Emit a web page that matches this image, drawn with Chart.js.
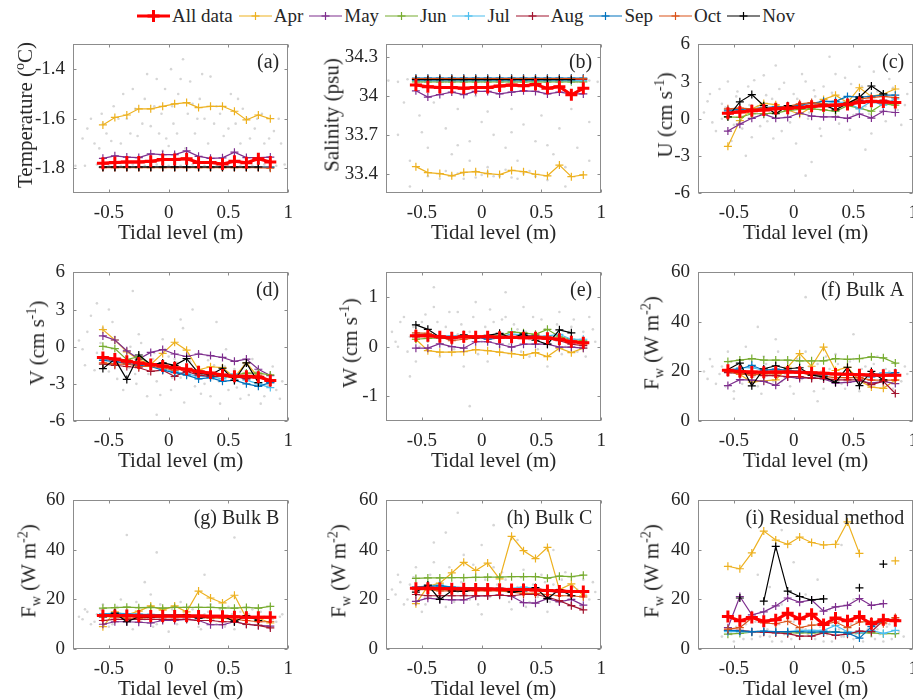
<!DOCTYPE html>
<html>
<head>
<meta charset="utf-8">
<script src="https://cdn.jsdelivr.net/npm/chart.js@4"></script>
<style>
  body { margin:0; background:#fff; width:913px; height:700px; overflow:hidden; position:relative;
         font-family:"Liberation Serif","Times New Roman",serif; color:#262626; }
  canvas { position:absolute; }
  .ylab { position:absolute; white-space:nowrap; font-size:21px; transform:translate(-50%,-50%) rotate(-90deg); }
  .ylab sup, .ylab sub { font-size:14px; }
  #legend { position:absolute; top:6px; left:137px; display:flex; align-items:center; font-size:19px; line-height:20px; }
  #legend .item { display:flex; align-items:center; margin-right:6px; }
  #legend svg { margin-right:2px; }
</style>
</head>
<body>
<div id="legend"></div>
<script>
// tidal level bins (m)
const tide = [-0.55,-0.45,-0.35,-0.25,-0.15,-0.05,0.05,0.15,0.25,0.35,0.45,0.55,0.65,0.75,0.85];
const seriesNames = ['All data','Apr','May','Jun','Jul','Aug','Sep','Oct','Nov'];
const seriesColors = ['#ff0000','#EDB120','#7E2F8E','#77AC30','#4DBEEE','#A2142F','#0072BD','#D95319','#000000'];

const xTicks = [-0.5, 0, 0.5, 1];
const tempTicks = [-1.8, -1.6, -1.4];
const salTicks = [33.4, 33.7, 34, 34.3];
const velTicks = [-6, -3, 0, 3, 6];
const wTicks = [-1, 0, 1];
const fluxTicks = [0, 20, 40, 60];

// rows follow seriesNames order
const temperature = [
  [-1.78,-1.777,-1.775,-1.775,-1.772,-1.765,-1.765,-1.762,-1.777,-1.777,-1.783,-1.772,-1.778,-1.762,-1.775],
  [-1.625,-1.595,-1.585,-1.56,-1.56,-1.55,-1.54,-1.535,-1.555,-1.55,-1.55,-1.57,-1.605,-1.585,-1.60],
  [-1.76,-1.75,-1.755,-1.757,-1.742,-1.745,-1.745,-1.73,-1.752,-1.76,-1.758,-1.735,-1.757,-1.757,-1.755],
  [-1.793,-1.793,-1.793,-1.793,-1.793,-1.793,-1.793,-1.793,-1.793,-1.793,-1.793,-1.793,-1.793,-1.793,-1.793],
  [-1.794,-1.794,-1.794,-1.794,-1.794,-1.794,-1.794,-1.794,-1.794,-1.794,-1.794,-1.794,-1.794,-1.794,-1.794],
  [-1.796,-1.796,-1.796,-1.796,-1.796,-1.796,-1.796,-1.796,-1.796,-1.796,-1.796,-1.796,-1.796,-1.796,-1.796],
  [-1.797,-1.797,-1.797,-1.797,-1.797,-1.797,-1.797,-1.797,-1.797,-1.797,-1.797,-1.797,-1.797,-1.797,-1.797],
  [-1.798,-1.798,-1.798,-1.798,-1.798,-1.798,-1.798,-1.798,-1.798,-1.798,-1.798,-1.798,-1.798,-1.798,-1.80],
  [-1.795,-1.795,-1.795,-1.795,-1.795,-1.795,-1.795,-1.795,-1.795,-1.795,-1.795,-1.795,-1.795,-1.795,null]
];
const salinity = [
  [34.085,34.073,34.066,34.066,34.06,34.066,34.066,34.078,34.085,34.08,34.09,34.06,34.073,34.01,34.06],
  [33.454,33.408,33.40,33.383,33.41,33.415,33.40,33.393,33.425,33.415,33.395,33.383,33.466,33.376,33.39],
  [34.041,33.992,34.012,34.031,34.012,34.036,34.036,34.017,34.031,34.041,34.036,34.017,34.031,34.017,34.017],
  [34.11,34.11,34.11,34.11,34.11,34.11,34.11,34.11,34.11,34.11,34.11,34.11,34.11,34.11,34.11],
  [34.12,34.12,34.12,34.12,34.12,34.12,34.12,34.12,34.12,34.12,34.12,34.12,34.12,34.12,34.12],
  [34.13,34.13,34.13,34.13,34.13,34.13,34.13,34.13,34.13,34.13,34.13,34.13,34.13,34.13,34.13],
  [34.14,34.14,34.14,34.14,34.14,34.14,34.14,34.14,34.14,34.14,34.14,34.14,34.14,34.14,34.14],
  [34.135,34.135,34.135,34.135,34.135,34.135,34.135,34.135,34.135,34.135,34.135,34.135,34.135,34.135,34.135],
  [34.127,34.127,34.127,34.127,34.127,34.127,34.127,34.127,34.127,34.127,34.127,34.127,34.127,34.127,null]
];
const uVel = [
  [0.45,0.55,0.65,0.7,0.8,0.85,0.9,1.0,1.05,1.1,1.15,1.3,1.4,1.35,1.3],
  [-2.23,-0.15,0.8,1.23,1.13,0.72,0.36,0.92,1.56,1.9,1.3,2.5,1.8,2.0,2.4],
  [-1.0,-0.44,0.03,0.36,0.03,0.1,0.46,0.2,0.15,0.15,0.03,0.38,0.05,0.6,0.5],
  [0.15,0.1,0.4,0.4,0.45,0.65,0.75,0.8,0.72,0.6,1.05,0.85,0.6,1.2,1.1],
  [0.6,0.65,0.75,0.8,0.8,0.9,1.0,1.05,1.2,1.35,1.3,0.8,1.4,1.1,1.6],
  [0.5,0.6,0.6,0.7,0.8,0.8,0.9,1.0,1.1,1.0,1.2,1.5,1.3,1.5,1.3],
  [0.7,0.75,0.8,0.9,0.95,1.0,1.1,1.25,1.4,1.4,1.8,1.75,1.8,1.9,1.9],
  [0.8,0.85,0.8,0.85,0.9,1.0,1.2,1.3,1.2,1.1,1.3,1.6,1.7,1.8,1.7],
  [0.15,1.36,1.95,1.05,0.4,1.05,0.9,0.95,1.13,0.72,1.23,1.74,2.64,2.0,null]
];
const vVel = [
  [-0.87,-1.0,-1.18,-1.31,-1.44,-1.56,-1.7,-1.82,-2.03,-2.13,-2.28,-2.38,-2.38,-2.46,-2.72],
  [1.38,0.54,-0.41,-1.05,-1.44,-0.54,0.36,-0.28,-1.87,-1.62,-1.69,-2.46,-1.3,-2.46,-2.72],
  [0.87,0.54,-0.33,-1.0,-0.46,-0.23,-0.59,-0.79,-0.59,-0.72,-0.87,-1.18,-1.0,-1.82,-2.33],
  [0.03,-0.15,-1.05,-0.8,-1.44,-1.5,-1.7,-1.82,-1.95,-2.2,-2.38,-2.28,-2.13,-2.13,-2.28],
  [-1.0,-1.1,-1.2,-1.4,-1.6,-1.8,-2.0,-2.2,-2.4,-2.4,-2.6,-2.2,-2.7,-3.0,-3.3],
  [-1.4,-1.5,-1.6,-1.7,-2.0,-1.9,-2.4,-2.0,-2.3,-2.4,-2.4,-2.4,-2.6,-2.4,-2.9],
  [-1.1,-1.2,-1.35,-1.5,-1.6,-1.9,-2.1,-2.3,-2.6,-2.5,-2.8,-2.7,-3.0,-3.2,-2.9],
  [-1.3,-1.4,-1.4,-1.6,-1.6,-1.7,-1.9,-1.8,-2.1,-2.2,-2.4,-2.5,-2.4,-2.3,-2.7],
  [-1.77,-1.0,-2.64,-0.67,-1.44,-1.31,-1.5,-0.97,-2.13,-2.28,-1.74,-2.72,-1.31,-2.9,null]
];
const wVel = [
  [0.22,0.22,0.2,0.18,0.2,0.2,0.2,0.19,0.19,0.18,0.18,0.17,0.15,0.1,0.08],
  [0.15,-0.08,-0.11,-0.11,-0.1,-0.06,-0.08,-0.11,-0.14,-0.17,-0.12,-0.2,-0.03,-0.12,-0.03],
  [-0.03,-0.03,0.06,0,-0.03,0.1,0.1,0.05,-0.01,0.05,0.05,0.05,-0.01,-0.01,-0.03],
  [0.15,0.17,0.18,0.2,0.2,0.2,0.22,0.22,0.3,0.28,0.25,0.35,0.2,0.15,0.12],
  [0.25,0.25,0.22,0.22,0.22,0.2,0.18,0.2,0.25,0.25,0.2,0.22,0.25,0.15,0.15],
  [0.2,0.25,0.18,0.2,0.22,0.2,0.2,0.2,0.18,0.22,0.22,0.2,0.12,0.05,0.02],
  [0.22,0.25,0.2,0.18,0.2,0.2,0.15,0.18,0.2,0.2,0.18,0.15,0.15,0.1,0.1],
  [0.28,0.27,0.2,0.12,0.15,0.18,0.2,0.18,0.2,0.18,0.2,0.2,0.15,0.12,0.05],
  [0.44,0.35,0.19,0.16,0.24,0.18,0.23,0.27,0.18,0.26,0.13,0.05,0.34,0.28,null]
];
const bulkA = [
  [20.5,20,19.8,19.7,19.8,19.8,19.7,19.5,19.3,19,18.9,18.7,18.6,18.5,18.5],
  [20.4,18.8,15.7,16.2,16.6,21.7,27.2,22.1,29.8,20.4,21.7,16.2,13.7,13.2,16.6],
  [14.3,16.7,16.5,16,14.4,17.8,17.2,17.5,17,15.3,15.6,16.2,15.3,16,15.1],
  [24,24.6,25.2,24.6,24.6,24.6,24.3,24.3,24.3,25.2,24.9,25.2,25.9,25.5,23.4],
  [20.5,21.5,21.5,20.5,20.5,20,20,19.5,19.5,19,19,18.5,18.5,19.5,19.5],
  [19.5,19.2,19.2,18.3,18.3,17.9,17.9,17.2,17.2,16.6,16.6,16.6,14.7,16,11.1],
  [20.5,21,22.5,20.5,21,20.5,20,19,18.5,19,19,18.5,17.8,18.5,19.5],
  [20,19,18.5,19,19,19.5,19.5,18.5,18,17.5,17.5,17.5,16.5,16.5,16.5],
  [20.8,23.4,14.2,21.1,22.3,21.1,21.5,18.5,17.8,15.6,21.7,14.3,20,16.6,null]
];
const bulkB = [
  [13.5,13.5,13.5,13.3,13.3,13.3,13.3,13.3,13.3,13.2,13.2,13,12.8,12.8,12.8],
  [9,15,13.8,15.3,17.4,15.7,17.4,15,23.4,20.6,18.6,21.7,12.5,12.5,10.5],
  [10,11,11,10.8,10.5,11.5,11.5,12,11.5,9.8,9.8,11,10,9.5,9.2],
  [16.5,16.7,16.9,16.7,16.8,16.5,16.8,16.8,16.8,16.8,16.6,16.5,16.8,16.5,17.2],
  [14.2,14.5,14.3,14,14,13.8,13.8,13.5,13.5,13.5,13.2,13.2,13,13,13],
  [11.5,12,12,12,12,12,12,12,11.5,11.5,11,11,10,9.5,8.5],
  [14,14.2,14,14,13.8,13.8,13.8,13.6,13.5,13.5,13.3,13.2,13,12.8,12.8],
  [13.2,13,12.5,12.5,12.8,13,13,13,12.8,12.5,12.5,12,11.5,11,11],
  [13,14.5,11,13,12.8,13.2,13.5,13.8,12.5,13,13.5,11,13.5,11.5,null]
];
const bulkC = [
  [24.5,24.5,24.4,24.3,24.3,24.2,24.2,24.1,24,24,23.8,23.6,23.4,23.2,23.2],
  [18.3,25.3,26.6,30.7,35,31.7,34.7,28.3,45.5,39.7,36.5,41,24,26.3,21.5],
  [19.2,20.5,20,19.8,19.8,21.3,21.5,21.8,21.3,18.7,18.5,20.3,19,20,17.7],
  [28.5,28.7,28.7,28.8,28.8,28.9,29,29,29.2,29.2,29.2,28.6,29.4,29.2,29.8],
  [25,25.5,25.8,25,24.8,24.5,24.5,24.3,24.5,25,24.5,23.5,23,23,23.5],
  [22,21.5,21.5,21.5,21.5,21.5,21.5,21.7,21.5,22,22,21,19.5,17.5,15.8],
  [25,25.3,25.5,25,24.8,24.8,24.5,24.5,24.3,24,24,23.5,23,23,23],
  [24,24,23.5,23.5,23.5,23.5,23.5,23.5,23,22.5,22.5,22,21.5,21.5,21],
  [23,25.8,20,23.5,23.3,24,24,24.5,23,23.5,24.8,20.3,24,21.5,null]
];
const residual = [
  [13.1,11.4,12.7,11.2,11.8,14.4,12.2,14,9.9,12.5,11.4,13.1,10.2,11.8,11.4],
  [33.4,32.4,38.8,47.6,44,42.3,45.2,43,42,42.3,51.3,38.6,null,null,35.6],
  [8.6,21.2,13.8,15,17.4,20.6,18.9,19.8,15.3,17,17.6,20.4,17.6,18.3,null],
  [6,6.3,6.8,7,7,6.5,6.5,6.5,6.5,7,6.5,6.5,6.5,6.2,6.2],
  [7,7,6.8,7,7,7,7.5,7.5,7.5,9.5,7,6.5,7.5,6.3,7.5],
  [7.5,7.5,7,6.8,6.5,6.2,5.2,5.2,6.5,5.5,6,7.2,7,11.5,12],
  [7.5,7.3,7,7.2,7,7,7,6.8,7,6.8,6.5,4.4,9,11.5,11.5],
  [8,8.6,12.5,10.5,10.2,11.2,8.6,9.6,9.9,10.9,8.6,10.9,11.2,10.2,12.7],
  [null,20.6,null,19.3,41.4,23.4,21.2,19.8,20.2,null,null,24.7,null,34.3,null]
];

// raw samples (grey dots), hand-read sketch of the cloud
const cloudA = [[-0.78,-1.79],[-0.7,-1.79],[-0.6,-1.785],[-0.5,-1.79],[-0.4,-1.79],[-0.3,-1.785],[-0.2,-1.79],[-0.1,-1.785],[0,-1.79],[0.1,-1.79],[0.2,-1.785],[0.3,-1.79],[0.4,-1.79],[0.5,-1.785],[0.6,-1.79],[0.7,-1.79],[0.8,-1.785],[0.9,-1.79],[0.97,-1.785],
  [-0.72,-1.68],[-0.65,-1.6],[-0.58,-1.72],[-0.52,-1.66],[-0.46,-1.55],[-0.4,-1.7],[-0.35,-1.6],[-0.3,-1.48],[-0.26,-1.67],[-0.2,-1.52],[-0.15,-1.63],[-0.1,-1.44],[-0.06,-1.58],[-0.02,-1.68],[0.02,-1.4],[0.04,-1.62],[0.08,-1.5],[0.12,-1.36],[0.14,-1.72],[0.18,-1.45],[0.22,-1.66],[0.26,-1.52],[0.3,-1.6],[0.35,-1.43],[0.4,-1.55],[0.46,-1.67],[0.52,-1.5],[0.56,-1.62],[0.62,-1.56],[0.68,-1.68],[0.74,-1.6],[0.8,-1.7],[0.88,-1.65],[0.94,-1.7],[-0.05,-1.73],[0.05,-1.74],[0,-1.71],[-0.55,-1.62],[0.6,-1.7],
  [-0.68,-1.64],[-0.62,-1.7],[-0.56,-1.58],[-0.48,-1.69],[-0.42,-1.6],[-0.38,-1.5],[-0.32,-1.66],[-0.28,-1.56],[-0.22,-1.62],[-0.18,-1.42],[-0.12,-1.55],[-0.08,-1.66],[-0.03,-1.48],[0.03,-1.55],[0.07,-1.66],[0.1,-1.44],[0.16,-1.58],[0.2,-1.54],[0.24,-1.6],[0.28,-1.42],[0.33,-1.7],[0.38,-1.62],[0.43,-1.58],[0.5,-1.64],[0.58,-1.52],[0.66,-1.6],[0.72,-1.64],[0.78,-1.58],[0.84,-1.68],[0.92,-1.6]];
const cloudB = [[-0.78,34.12],[-0.7,34.11],[-0.62,34.13],[-0.5,34.11],[-0.4,34.12],[-0.3,34.11],[-0.2,34.13],[-0.1,34.12],[0,34.11],[0.1,34.12],[0.2,34.13],[0.3,34.11],[0.4,34.12],[0.5,34.11],[0.6,34.13],[0.7,34.12],[0.8,34.11],[0.9,34.12],[0.97,34.11],
  [-0.7,33.7],[-0.6,33.5],[-0.52,33.85],[-0.45,33.6],[-0.4,33.95],[-0.35,33.4],[-0.3,33.75],[-0.25,33.55],[-0.2,33.9],[-0.15,33.36],[-0.1,33.65],[-0.05,34.0],[0,33.8],[0.05,33.45],[0.1,33.7],[0.15,33.38],[0.2,33.6],[0.25,33.9],[0.3,33.5],[0.35,33.78],[0.4,33.42],[0.45,33.65],[0.5,33.85],[0.55,33.35],[0.6,33.55],[0.65,33.75],[0.7,33.45],[0.8,33.6],[0.9,33.8],[-0.2,33.4],[0.1,33.38],[0.3,33.36],[-0.05,33.42],
  [-0.45,33.38],[-0.35,33.36],[-0.25,33.39],[-0.15,33.4],[-0.05,33.37],[0.05,33.41],[0.15,33.39],[0.25,33.37],[0.35,33.4],[0.45,33.38],[-0.3,33.42],[0.0,33.39],[0.2,33.43],[-0.6,33.3],[0.7,33.3],[-0.5,33.72],[-0.2,33.62],[0.05,33.88],[0.25,33.72],[0.55,33.62],[0.75,33.9],[-0.65,33.95],[0.9,33.5],[-0.1,33.5]];
const cloudC = [[-0.75,0.5],[-0.7,2.0],[-0.65,-1.0],[-0.6,1.2],[-0.55,3.0],[-0.5,-0.5],[-0.48,1.8],[-0.42,0.2],[-0.38,2.6],[-0.35,-1.5],[-0.3,1.0],[-0.25,3.5],[-0.22,-0.2],[-0.18,1.6],[-0.12,2.4],[-0.1,-1.0],[-0.05,0.6],[0,2.0],[0.02,-2.0],[0.05,1.2],[0.1,3.0],[0.12,0.0],[0.18,1.8],[0.22,-0.8],[0.25,2.6],[0.3,0.9],[0.35,3.6],[0.38,-0.4],[0.42,1.4],[0.48,2.8],[0.5,0.3],[0.55,4.2],[0.6,1.0],[0.65,-1.2],[0.7,2.2],[0.75,0.6],[0.8,3.2],[0.85,1.5],[0.9,-0.5],[0.95,2.0],[-0.4,-3.0],[0.15,-3.5],[0.1,-4.6],[0.3,5.0],[-0.6,0.0],[0.0,0.8],[-0.2,0.5],[0.45,1.0],
  [-0.72,1.4],[-0.68,-0.3],[-0.62,2.4],[-0.57,0.9],[-0.52,-1.8],[-0.47,2.2],[-0.43,-0.8],[-0.37,1.1],[-0.33,3.1],[-0.28,-0.6],[-0.23,1.9],[-0.17,-1.6],[-0.13,0.9],[-0.08,2.9],[-0.03,-0.3],[0.03,1.6],[0.07,3.6],[0.13,0.5],[0.17,2.3],[0.23,-1.4],[0.27,1.2],[0.32,2.1],[0.37,0.2],[0.43,3.3],[0.47,-0.9],[0.53,1.7],[0.57,2.6],[0.63,0.4],[0.67,3.8],[0.73,1.3],[0.77,-0.2],[0.83,2.5],[0.87,0.7],[0.93,1.1],[-0.15,4.3],[0.6,-2.5]];
const cloudD = [[-0.75,0.5],[-0.7,-1.5],[-0.65,2.5],[-0.6,-0.5],[-0.55,1.5],[-0.5,-2.0],[-0.45,0.8],[-0.4,-1.0],[-0.38,-3.5],[-0.32,0.0],[-0.28,-2.2],[-0.25,1.0],[-0.2,-1.5],[-0.18,-4.0],[-0.12,-0.5],[-0.1,-2.8],[-0.05,0.6],[0,-1.8],[0.02,-3.5],[0.05,-1.0],[0.1,-2.5],[0.12,1.5],[0.18,-1.2],[0.22,-3.2],[0.25,-0.5],[0.3,-2.0],[0.35,-4.0],[0.38,-1.5],[0.42,-2.8],[0.48,-0.2],[0.5,-3.5],[0.55,-1.8],[0.6,-4.2],[0.65,-2.5],[0.7,-1.0],[0.75,-3.0],[0.8,-4.0],[0.85,-2.2],[0.9,-3.5],[0.95,-2.8],[-0.6,3.5],[-0.3,4.5],[0.2,3.0],[-0.1,-5.5],[0.4,2.0],[-0.45,-1.2],[0.0,-0.8],[0.3,-3.0],
  [-0.72,-0.2],[-0.68,1.2],[-0.62,-1.9],[-0.57,0.3],[-0.52,-0.9],[-0.47,2.0],[-0.43,-2.6],[-0.37,-0.3],[-0.33,-1.7],[-0.27,-3.0],[-0.23,0.3],[-0.17,-2.2],[-0.13,-1.0],[-0.07,-3.9],[-0.03,-0.2],[0.03,-2.5],[0.07,-1.3],[0.13,-4.5],[0.17,-0.7],[0.23,-2.0],[0.27,-3.8],[0.33,-1.1],[0.37,-2.6],[0.43,-4.6],[0.47,-1.6],[0.53,-2.4],[0.57,-3.3],[0.63,-1.5],[0.67,-3.9],[0.73,-2.0],[0.77,-4.6],[0.83,-3.1],[0.87,-1.6],[0.93,-4.2],[-0.5,3.0],[0.1,2.2]];
const cloudE = [[-0.75,0.3],[-0.7,0.0],[-0.65,0.6],[-0.6,0.2],[-0.55,-0.3],[-0.5,0.5],[-0.45,0.1],[-0.4,0.8],[-0.35,-0.2],[-0.3,0.4],[-0.25,0.2],[-0.2,0.7],[-0.15,-0.4],[-0.1,0.3],[-0.05,0.9],[0,0.1],[0.05,-0.3],[0.1,0.5],[0.15,0.0],[0.2,0.6],[0.25,-0.1],[0.3,0.35],[0.35,0.8],[0.4,-0.2],[0.45,0.25],[0.5,0.55],[0.55,-0.4],[0.6,0.2],[0.65,0.7],[0.7,0.0],[0.75,0.4],[0.8,-0.1],[0.85,0.3],[0.9,0.6],[0.95,0.1],[-0.1,-1.2],[0.0,-1.5],[-0.4,1.2],[0.2,1.1],[-0.6,-0.6],[0.4,0.15],[-0.2,0.25],
  [-0.72,0.1],[-0.68,0.5],[-0.62,-0.1],[-0.57,0.4],[-0.52,0.0],[-0.47,0.65],[-0.43,0.25],[-0.37,0.5],[-0.33,0.05],[-0.27,0.7],[-0.23,-0.05],[-0.17,0.45],[-0.13,0.15],[-0.07,0.6],[-0.03,-0.15],[0.03,0.4],[0.07,0.75],[0.13,0.2],[0.17,0.55],[0.23,0.05],[0.27,0.45],[0.33,-0.1],[0.37,0.3],[0.43,0.6],[0.47,-0.05],[0.53,0.35],[0.57,0.1],[0.63,0.45],[0.67,-0.15],[0.73,0.3],[0.77,0.55],[0.83,0.1],[0.87,-0.2],[0.93,0.35]];
const cloudF = [[-0.75,20],[-0.7,25],[-0.65,15],[-0.6,22],[-0.55,28],[-0.5,12],[-0.45,18],[-0.4,30],[-0.35,22],[-0.3,14],[-0.25,26],[-0.2,19],[-0.15,33],[-0.1,16],[-0.05,24],[0,11],[0.05,20],[0.1,28],[0.15,17],[0.2,23],[0.25,13],[0.3,21],[0.35,27],[0.4,15],[0.45,19],[0.5,25],[0.55,12],[0.6,22],[0.65,18],[0.7,26],[0.75,14],[0.8,20],[0.85,23],[0.9,16],[0.95,19],[0.1,50],[-0.3,38],[0.5,35],[-0.5,9],[0.2,8],
  [-0.72,17],[-0.68,22],[-0.62,19],[-0.57,14],[-0.52,24],[-0.47,21],[-0.43,15],[-0.37,25],[-0.33,18],[-0.27,11],[-0.23,23],[-0.17,16],[-0.13,28],[-0.07,19],[-0.03,14],[0.03,25],[0.07,17],[0.13,22],[0.17,12],[0.23,20],[0.27,26],[0.33,16],[0.37,23],[0.43,13],[0.47,24],[0.53,18],[0.57,21],[0.63,15],[0.67,23],[0.73,17],[0.77,21],[0.83,13],[0.87,19],[0.93,22]];
const cloudG = [[-0.75,13],[-0.7,16],[-0.65,10],[-0.6,14],[-0.55,18],[-0.5,9],[-0.45,12],[-0.4,20],[-0.35,15],[-0.3,8],[-0.25,17],[-0.2,12],[-0.15,22],[-0.1,10],[-0.05,15],[0,7],[0.05,13],[0.1,19],[0.15,11],[0.2,16],[0.25,9],[0.3,14],[0.35,18],[0.4,10],[0.45,13],[0.5,17],[0.55,8],[0.6,15],[0.65,12],[0.7,16],[0.75,10],[0.8,13],[0.85,15],[0.9,11],[0.95,14],[-0.35,46],[0.55,45],[-0.1,39],[0.3,30],[-0.2,27],
  [-0.72,12],[-0.68,15],[-0.62,11],[-0.57,16],[-0.52,13],[-0.47,10],[-0.43,17],[-0.37,12],[-0.33,14],[-0.27,19],[-0.23,11],[-0.17,14],[-0.13,9],[-0.07,18],[-0.03,12],[0.03,16],[0.07,10],[0.13,14],[0.17,17],[0.23,12],[0.27,8],[0.33,15],[0.37,12],[0.43,16],[0.47,9],[0.53,14],[0.57,12],[0.63,10],[0.67,14],[0.73,12],[0.77,15],[0.83,9],[0.87,12],[0.93,13]];
const cloudH = [[-0.75,24],[-0.7,30],[-0.65,18],[-0.6,26],[-0.55,33],[-0.5,15],[-0.45,22],[-0.4,35],[-0.35,27],[-0.3,17],[-0.25,31],[-0.2,23],[-0.15,38],[-0.1,20],[-0.05,29],[0,14],[0.05,24],[0.1,33],[0.15,21],[0.2,28],[0.25,16],[0.3,25],[0.35,32],[0.4,19],[0.45,23],[0.5,30],[0.55,15],[0.6,26],[0.65,22],[0.7,31],[0.75,18],[0.8,24],[0.85,28],[0.9,20],[0.95,23],[-0.2,55],[0.1,50],[0.3,44],[-0.4,43],[0.6,40],
  [-0.72,22],[-0.68,27],[-0.62,20],[-0.57,29],[-0.52,24],[-0.47,18],[-0.43,30],[-0.37,21],[-0.33,26],[-0.27,33],[-0.23,19],[-0.17,27],[-0.13,22],[-0.07,34],[-0.03,18],[0.03,28],[0.07,21],[0.13,26],[0.17,31],[0.23,19],[0.27,24],[0.33,29],[0.37,17],[0.43,26],[0.47,21],[0.53,27],[0.57,19],[0.63,24],[0.67,28],[0.73,20],[0.77,25],[0.83,17],[0.87,22],[0.93,27],[0.0,42],[-0.3,47]];
const cloudI = [[-0.6,5],[-0.55,8],[-0.5,3],[-0.45,6],[-0.4,10],[-0.35,4],[-0.3,7],[-0.25,12],[-0.2,5],[-0.15,9],[-0.1,3],[-0.05,6],[0,11],[0.05,4],[0.1,8],[0.15,5],[0.2,10],[0.25,3],[0.3,7],[0.35,12],[0.4,5],[0.45,9],[0.5,4],[0.55,7],[0.6,11],[0.65,5],[0.7,8],[0.75,3],[0.8,10],[0.85,6],[-0.2,25],[-0.1,18],[0.0,35],[0.1,22],[0.2,28],[0.3,16],[0.4,42],[-0.3,30],[0.5,20],[-0.1,48],
  [-0.52,6],[-0.48,9],[-0.42,4],[-0.38,7],[-0.32,11],[-0.28,5],[-0.22,8],[-0.18,3],[-0.12,10],[-0.08,6],[-0.02,4],[0.02,8],[0.08,12],[0.12,6],[0.18,4],[0.22,9],[0.28,6],[0.32,3],[0.38,8],[0.42,5],[0.48,10],[0.52,6],[0.58,3],[0.62,8],[0.68,4],[0.72,6],[0.78,9],[0.82,4],[0.88,7],[0.92,5]];

const FW = 'F<sub>w</sub> (W m<sup>-2</sup>)';
const panels = [
  {tag:'(a)', col:0, row:0, min:-1.9, max:-1.3, ticks:tempTicks, rows:temperature, cloud:cloudA, ylab:'Temperature (<sup>o</sup>C)', labX:25},
  {tag:'(b)', col:1, row:0, min:33.25, max:34.4, ticks:salTicks, rows:salinity, cloud:cloudB, ylab:'Salinity (psu)', labX:332},
  {tag:'(c)', col:2, row:0, min:-6, max:6, ticks:velTicks, rows:uVel, cloud:cloudC, ylab:'U (cm s<sup>-1</sup>)', labX:665},
  {tag:'(d)', col:0, row:1, min:-6, max:6, ticks:velTicks, rows:vVel, cloud:cloudD, ylab:'V (cm s<sup>-1</sup>)', labX:37},
  {tag:'(e)', col:1, row:1, min:-1.5, max:1.5, ticks:wTicks, rows:wVel, cloud:cloudE, ylab:'W (cm s<sup>-1</sup>)', labX:350},
  {tag:'(f) Bulk A', col:2, row:1, min:0, max:60, ticks:fluxTicks, rows:bulkA, cloud:cloudF, ylab:FW, labX:653},
  {tag:'(g) Bulk B', col:0, row:2, min:0, max:60, ticks:fluxTicks, rows:bulkB, cloud:cloudG, ylab:FW, labX:30},
  {tag:'(h) Bulk C', col:1, row:2, min:0, max:60, ticks:fluxTicks, rows:bulkC, cloud:cloudH, ylab:FW, labX:340},
  {tag:'(i) Residual method', col:2, row:2, min:0, max:60, ticks:fluxTicks, rows:residual, cloud:cloudI, ylab:FW, labX:653}
];

const colLeft = [73, 386, 698], rowTop = [37, 265, 493];
const PW = 217, PH = 156, YW = 73, XH = 57, PT = 12, PR = 12;
const SERIF = "'Liberation Serif','Times New Roman',serif";

Chart.defaults.font.family = SERIF;
Chart.defaults.color = '#262626';

// MATLAB-like box with inward ticks, plus the panel tag
const boxPlugin = {
  id: 'box',
  afterDraw(chart, args, opts) {
    const {ctx, chartArea: a, scales: {x, y}} = chart;
    ctx.save();
    ctx.strokeStyle = '#8c8c8c';
    ctx.lineWidth = 1;
    const L = Math.round(a.left) + 0.5, R = Math.round(a.right) - 0.5;
    const T = Math.round(a.top) + 0.5, B = Math.round(a.bottom) - 0.5;
    ctx.strokeRect(L, T, R - L, B - T);
    ctx.beginPath();
    x.ticks.forEach(t => {
      const px = Math.round(x.getPixelForValue(t.value)) + 0.5;
      ctx.moveTo(px, B); ctx.lineTo(px, B - 3);
      ctx.moveTo(px, T); ctx.lineTo(px, T + 3);
    });
    y.ticks.forEach(t => {
      const py = Math.round(y.getPixelForValue(t.value)) + 0.5;
      ctx.moveTo(L, py); ctx.lineTo(L + 3, py);
      ctx.moveTo(R, py); ctx.lineTo(R - 3, py);
    });
    ctx.stroke();
    ctx.fillStyle = '#262626';
    ctx.font = '20px ' + SERIF;
    ctx.textAlign = 'right';
    ctx.textBaseline = 'middle';
    ctx.fillText(opts.text, a.right - 9, a.top + 18);
    ctx.restore();
  }
};

panels.forEach(p => {
  const cv = document.createElement('canvas');
  const w = YW + PW + PR, h = PT + PH + XH;
  cv.width = w; cv.height = h;
  cv.style.left = (colLeft[p.col] - YW) + 'px';
  cv.style.top = (rowTop[p.row] - PT) + 'px';
  cv.style.width = w + 'px'; cv.style.height = h + 'px';
  document.body.appendChild(cv);

  const lab = document.createElement('div');
  lab.className = 'ylab';
  lab.innerHTML = p.ylab;
  lab.style.left = p.labX + 'px';
  lab.style.top = (rowTop[p.row] + PH / 2) + 'px';
  document.body.appendChild(lab);

  const datasets = p.rows.map((vals, k) => {
    const isAll = k === 0;
    return {
      type: 'line',
      label: seriesNames[k],
      data: tide.map((t, i) => ({x: t, y: vals[i]})),
      borderColor: seriesColors[k],
      backgroundColor: seriesColors[k],
      borderWidth: isAll ? 3 : 1.2,
      pointStyle: 'cross',
      pointRadius: isAll ? 6 : 4,
      pointBorderWidth: isAll ? 3 : 1.2,
      pointHoverRadius: 0,
      spanGaps: false,
      tension: 0,
      order: isAll ? 0 : 10 - k
    };
  });
  datasets.push({
    type: 'scatter',
    label: 'samples',
    data: p.cloud.map(([x, y]) => ({x, y})),
    pointRadius: 1.3,
    pointBorderWidth: 0,
    backgroundColor: '#d6d6d6',
    order: 99
  });

  new Chart(cv, {
    data: {datasets},
    options: {
      responsive: false,
      animation: false,
      devicePixelRatio: 1,
      events: [],
      layout: {padding: {top: PT, right: PR, left: 0, bottom: 0}},
      plugins: {legend: {display: false}, tooltip: {enabled: false}, box: {text: p.tag}},
      scales: {
        x: {
          type: 'linear', min: -0.8, max: 1,
          afterBuildTicks: s => { s.ticks = xTicks.map(v => ({value: v})); },
          afterFit: s => { s.height = XH; },
          grid: {display: false, drawTicks: false},
          border: {display: false},
          ticks: {font: {size: 19}, padding: 9, maxRotation: 0, callback: v => String(v)},
          title: {display: true, text: 'Tidal level (m)', font: {size: 21}, padding: {top: 0, bottom: 4}}
        },
        y: {
          type: 'linear', min: p.min, max: p.max,
          afterBuildTicks: s => { s.ticks = p.ticks.map(v => ({value: v})); },
          afterFit: s => { s.width = YW; },
          grid: {display: false, drawTicks: false},
          border: {display: false},
          ticks: {font: {size: 19}, padding: 8, callback: v => String(v)}
        }
      }
    },
    plugins: [boxPlugin]
  });
});

// legend row
const legend = document.getElementById('legend');
seriesNames.forEach((name, k) => {
  const isAll = k === 0;
  const r = isAll ? 6 : 4, sw = isAll ? 3 : 1.2;
  const item = document.createElement('div');
  item.className = 'item';
  item.innerHTML =
    `<svg width="33" height="20"><g stroke="${seriesColors[k]}" stroke-width="${sw}">` +
    `<line x1="0" y1="10" x2="33" y2="10"/>` +
    `<line x1="${16.5 - r}" y1="10" x2="${16.5 + r}" y2="10"/>` +
    `<line x1="16.5" y1="${10 - r}" x2="16.5" y2="${10 + r}"/></g></svg>` +
    `<span>${name}</span>`;
  legend.appendChild(item);
});
</script>
</body>
</html>
